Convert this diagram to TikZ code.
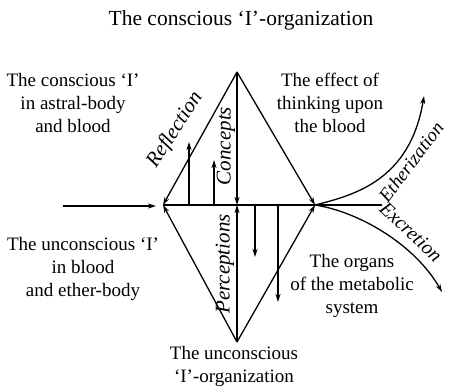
\documentclass[tikz,border=0pt]{standalone}
\usepackage{fontspec}
\setmainfont{Liberation Serif}
\usetikzlibrary{arrows.meta}
\begin{document}
\begin{tikzpicture}[x=1pt,y=-1pt,
  ln/.style={line width=1.3pt},
  arr/.style={line width=1.3pt,-{Stealth[length=8pt,width=5pt,inset=2.5pt]}},
  txt/.style={font=\fontsize{19}{23}\selectfont, align=center, inner sep=0pt},
  lab/.style={font=\fontsize{21}{23}\selectfont\itshape, inner sep=0pt}]
\useasboundingbox (0,0) rectangle (449,390);
% points
\coordinate (T) at (237,72);
\coordinate (L) at (163,205);
\coordinate (R) at (315,205);
\coordinate (B) at (237,342);
\coordinate (M) at (237,205);
\coordinate (E) at (382,205);
\coordinate (In) at (63,206);
\coordinate (InEnd) at (156,206);
\coordinate (a1s) at (189,205); \coordinate (a1e) at (189,142);
\coordinate (a2s) at (214,205); \coordinate (a2e) at (214,160);
\coordinate (a3s) at (255,205); \coordinate (a3e) at (255,257);
\coordinate (a4s) at (278,205); \coordinate (a4e) at (278,302);
\coordinate (Eth) at (424,96);
\coordinate (Exc) at (442,292);
% lines
\draw[arr] (T) -- (L);
\draw[arr] (B) -- (L);
\draw[arr] (T) -- (R);
\draw[arr] (B) -- (R);
\draw[arr] (T) -- (M);
\draw[arr] (B) -- (M);
\draw[ln] (L) -- (E);
\draw[arr] (In) -- (InEnd);
\draw[arr] (a1s) -- (a1e);
\draw[arr] (a2s) -- (a2e);
\draw[arr] (a3s) -- (a3e);
\draw[arr] (a4s) -- (a4e);
\draw[arr] (R) .. controls (355,195) and (410,180) .. (Eth);
\draw[arr] (R) .. controls (360,212) and (415,245) .. (Exc);
% texts
\node[txt, font=\fontsize{21.5}{23}\selectfont] (title) at (241,20) {The conscious ‘I’-organization};
\node[txt] (tl) at (73,103) {The conscious ‘I’\\in astral-body\\and blood};
\node[txt] (tr) at (330,103) {The effect of\\thinking upon\\the blood};
\node[txt] (bl) at (83,269) {The unconscious ‘I’\\in blood\\and ether-body};
\node[txt] (br) at (352,286) {The organs\\of the metabolic\\system};
\node[txt] (bot) at (234,366) {The unconscious\\‘I’-organization};
% labels
\node[lab, rotate=57] (refl) at (175,130) {Reflection};
\node[lab, rotate=90] (conc) at (226,146) {Concepts};
\node[lab, rotate=90] (perc) at (225,264) {Perceptions};
\node[lab, font=\fontsize{19}{23}\selectfont\itshape, rotate=53] (ether) at (411,162) {Etherization};
\node[lab, font=\fontsize{20}{23}\selectfont\itshape, rotate=-43] (excr) at (411,232) {Excretion};
\end{tikzpicture}
\end{document}
